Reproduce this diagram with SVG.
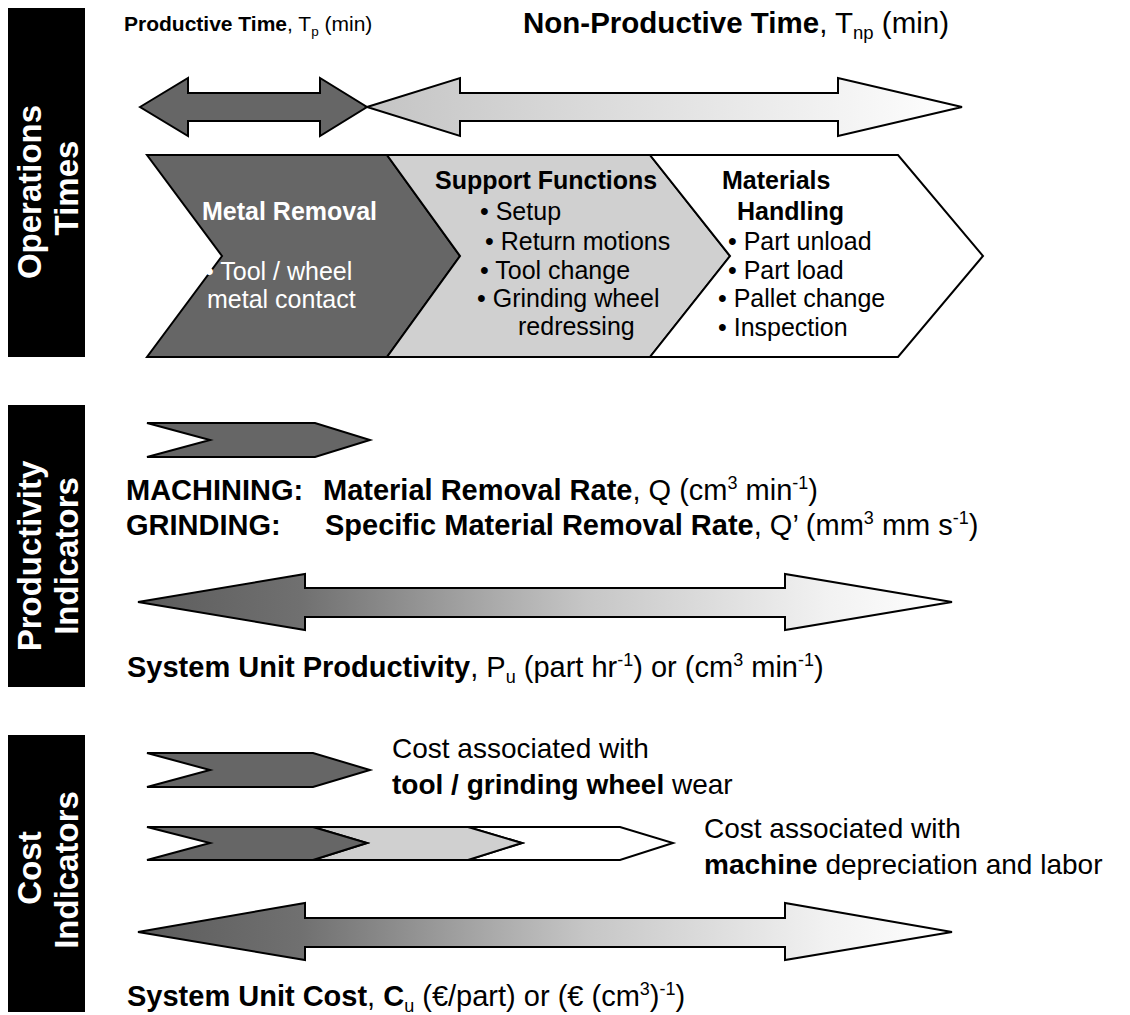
<svg xmlns="http://www.w3.org/2000/svg" width="1130" height="1015" viewBox="0 0 1130 1015">
  <defs>
    <style>
      text { font-family: "Liberation Sans", Arial, Helvetica, sans-serif; fill: #000; }
      .b { font-weight: bold; }
      .w { fill: #fff; }
      .side { font-weight: bold; fill: #fff; font-size: 33px; }
      .shp { stroke: #000; stroke-width: 2; stroke-linejoin: miter; }
      .dark { fill: #666666; }
      .light { fill: #d0d0d0; }
      .white { fill: #ffffff; }
      .ch { font-size: 25px; }
      .row { font-size: 29px; }
      .cost { font-size: 28px; }
    </style>
    <linearGradient id="gLight" gradientUnits="userSpaceOnUse" x1="367" y1="0" x2="962" y2="0">
      <stop offset="0" stop-color="#c4c4c4"/>
      <stop offset="1" stop-color="#ffffff"/>
    </linearGradient>
    <linearGradient id="gBig" gradientUnits="userSpaceOnUse" x1="138" y1="0" x2="952" y2="0">
      <stop offset="0" stop-color="#5c5c5c"/>
      <stop offset="0.2" stop-color="#707070"/>
      <stop offset="0.55" stop-color="#c6c6c6"/>
      <stop offset="0.85" stop-color="#f2f2f2"/>
      <stop offset="1" stop-color="#ffffff"/>
    </linearGradient>
  </defs>

  <rect width="1130" height="1015" fill="#ffffff"/>

  <!-- Side labels -->
  <g id="side-operations">
    <rect x="8" y="8" width="77" height="349" fill="#000"/>
    <text class="side" text-anchor="middle" transform="translate(41,192) rotate(-90)">Operations</text>
    <text class="side" text-anchor="middle" transform="translate(78,188) rotate(-90)">Times</text>
  </g>
  <g id="side-productivity">
    <rect x="8" y="405" width="77" height="282" fill="#000"/>
    <text class="side" text-anchor="middle" transform="translate(41,556) rotate(-90)">Productivity</text>
    <text class="side" text-anchor="middle" transform="translate(78,556) rotate(-90)">Indicators</text>
  </g>
  <g id="side-cost">
    <rect x="8" y="735" width="77" height="277" fill="#000"/>
    <text class="side" text-anchor="middle" transform="translate(41,868) rotate(-90)">Cost</text>
    <text class="side" text-anchor="middle" transform="translate(78,870) rotate(-90)">Indicators</text>
  </g>

  <!-- Titles -->
  <g id="title-productive">
    <text x="124" y="31" font-size="21"><tspan class="b">Productive Time</tspan>, T<tspan font-size="13.5" dy="5">p</tspan><tspan dy="-5"> (min)</tspan></text>
  </g>
  <g id="title-nonproductive">
    <text x="523" y="33" font-size="29.5"><tspan class="b">Non-Productive Time</tspan>, T<tspan font-size="18.5" dy="6">np</tspan><tspan dy="-6"> (min)</tspan></text>
  </g>

  <!-- Arrows (connector-like shapes) -->
  <g id="connectors">
    <path id="arrow-productive" class="shp dark" d="M140,107 L188,78 L188,93 L320,93 L320,78 L367,107 L320,136 L320,121 L188,121 L188,136 Z"/>
    <path id="arrow-nonproductive" class="shp" fill="url(#gLight)" d="M367,107 L460,78 L460,93 L838,93 L838,78 L962,107 L838,136 L838,121 L460,121 L460,136 Z"/>
    <path id="arrow-productivity" class="shp" fill="url(#gBig)" d="M138,602 L305,574 L305,588 L785,588 L785,574 L952,602 L785,630 L785,617 L305,617 L305,630 Z"/>
    <path id="arrow-cost" class="shp" fill="url(#gBig)" d="M138,932 L305,903 L305,918 L785,918 L785,903 L952,932 L785,960 L785,947 L305,947 L305,960 Z"/>
  </g>

  <!-- Chevron 1: Metal Removal -->
  <g id="chevron-metal-removal">
    <polygon class="shp dark" points="147,155 387,155 460,256 387,357 147,357 222,256"/>
    <text class="ch b w" x="202" y="220">Metal Removal</text>
    <text class="ch w" x="205" y="280">• Tool / wheel</text>
    <text class="ch w" x="207" y="308">metal contact</text>
  </g>

  <!-- Chevron 2: Support Functions -->
  <g id="chevron-support">
    <polygon class="shp light" points="387,155 650,155 730,256 650,357 387,357 460,256"/>
    <text class="ch b" x="435" y="189">Support Functions</text>
    <text class="ch" x="480" y="220">• Setup</text>
    <text class="ch" x="485" y="250">• Return motions</text>
    <text class="ch" x="480" y="279">• Tool change</text>
    <text class="ch" x="477" y="307">• Grinding wheel</text>
    <text class="ch" x="518" y="335">redressing</text>
  </g>

  <!-- Chevron 3: Materials Handling -->
  <g id="chevron-materials">
    <polygon class="shp white" points="650,155 898,155 983,256 898,357 650,357 730,256"/>
    <text class="ch b" x="722" y="189">Materials</text>
    <text class="ch b" x="737" y="220">Handling</text>
    <text class="ch" x="728" y="250">• Part unload</text>
    <text class="ch" x="728" y="279">• Part load</text>
    <text class="ch" x="718" y="307">• Pallet change</text>
    <text class="ch" x="718" y="336">• Inspection</text>
  </g>

  <!-- Productivity indicators -->
  <g id="prod-chevron">
    <polygon class="shp dark" points="147,423 315,423 370,440 315,457 147,457 210,440"/>
  </g>
  <g id="prod-mrr">
    <text class="row" x="126" y="500"><tspan class="b">MACHINING:</tspan><tspan class="b" x="323">Material Removal Rate</tspan>, Q (cm<tspan font-size="18" dy="-11">3</tspan><tspan dy="11"> min</tspan><tspan font-size="18" dy="-11">-1</tspan><tspan dy="11">)</tspan></text>
    <text class="row" x="126" y="535"><tspan class="b">GRINDING:</tspan><tspan class="b" x="325">Specific Material Removal Rate</tspan>, Q’ (mm<tspan font-size="18" dy="-11">3</tspan><tspan dy="11"> mm s</tspan><tspan font-size="18" dy="-11">-1</tspan><tspan dy="11">)</tspan></text>
  </g>
  <g id="prod-unit">
    <text class="row" x="127" y="677"><tspan class="b">System Unit Productivity</tspan>, P<tspan font-size="18" dy="6">u</tspan><tspan dy="-6"> (part hr</tspan><tspan font-size="18" dy="-11">-1</tspan><tspan dy="11">) or (cm</tspan><tspan font-size="18" dy="-11">3</tspan><tspan dy="11"> min</tspan><tspan font-size="18" dy="-11">-1</tspan><tspan dy="11">)</tspan></text>
  </g>

  <!-- Cost indicators -->
  <g id="cost-tool">
    <polygon class="shp dark" points="147,753 313,753 370,770 313,787 147,787 210,770"/>
    <text class="cost" x="392" y="758">Cost associated with</text>
    <text class="cost" x="392" y="794"><tspan class="b">tool / grinding wheel</tspan> wear</text>
  </g>
  <g id="cost-machine">
    <polygon class="shp white" points="468,827 620,827 673,843 620,860 468,860 522,843"/>
    <polygon class="shp light" points="313,827 468,827 522,843 468,860 313,860 367,843"/>
    <polygon class="shp dark" points="147,827 313,827 367,843 313,860 147,860 210,843"/>
    <text class="cost" x="704" y="838">Cost associated with</text>
    <text class="cost" x="704" y="874"><tspan class="b">machine</tspan> depreciation and labor</text>
  </g>
  <g id="cost-unit">
    <text class="row" x="127" y="1006"><tspan class="b">System Unit Cost</tspan>, <tspan class="b">C</tspan><tspan font-size="18" dy="6">u</tspan><tspan dy="-6"> (€/part) or (€ (cm</tspan><tspan font-size="18" dy="-11">3</tspan><tspan dy="11">)</tspan><tspan font-size="18" dy="-11">-1</tspan><tspan dy="11">)</tspan></text>
  </g>
</svg>
